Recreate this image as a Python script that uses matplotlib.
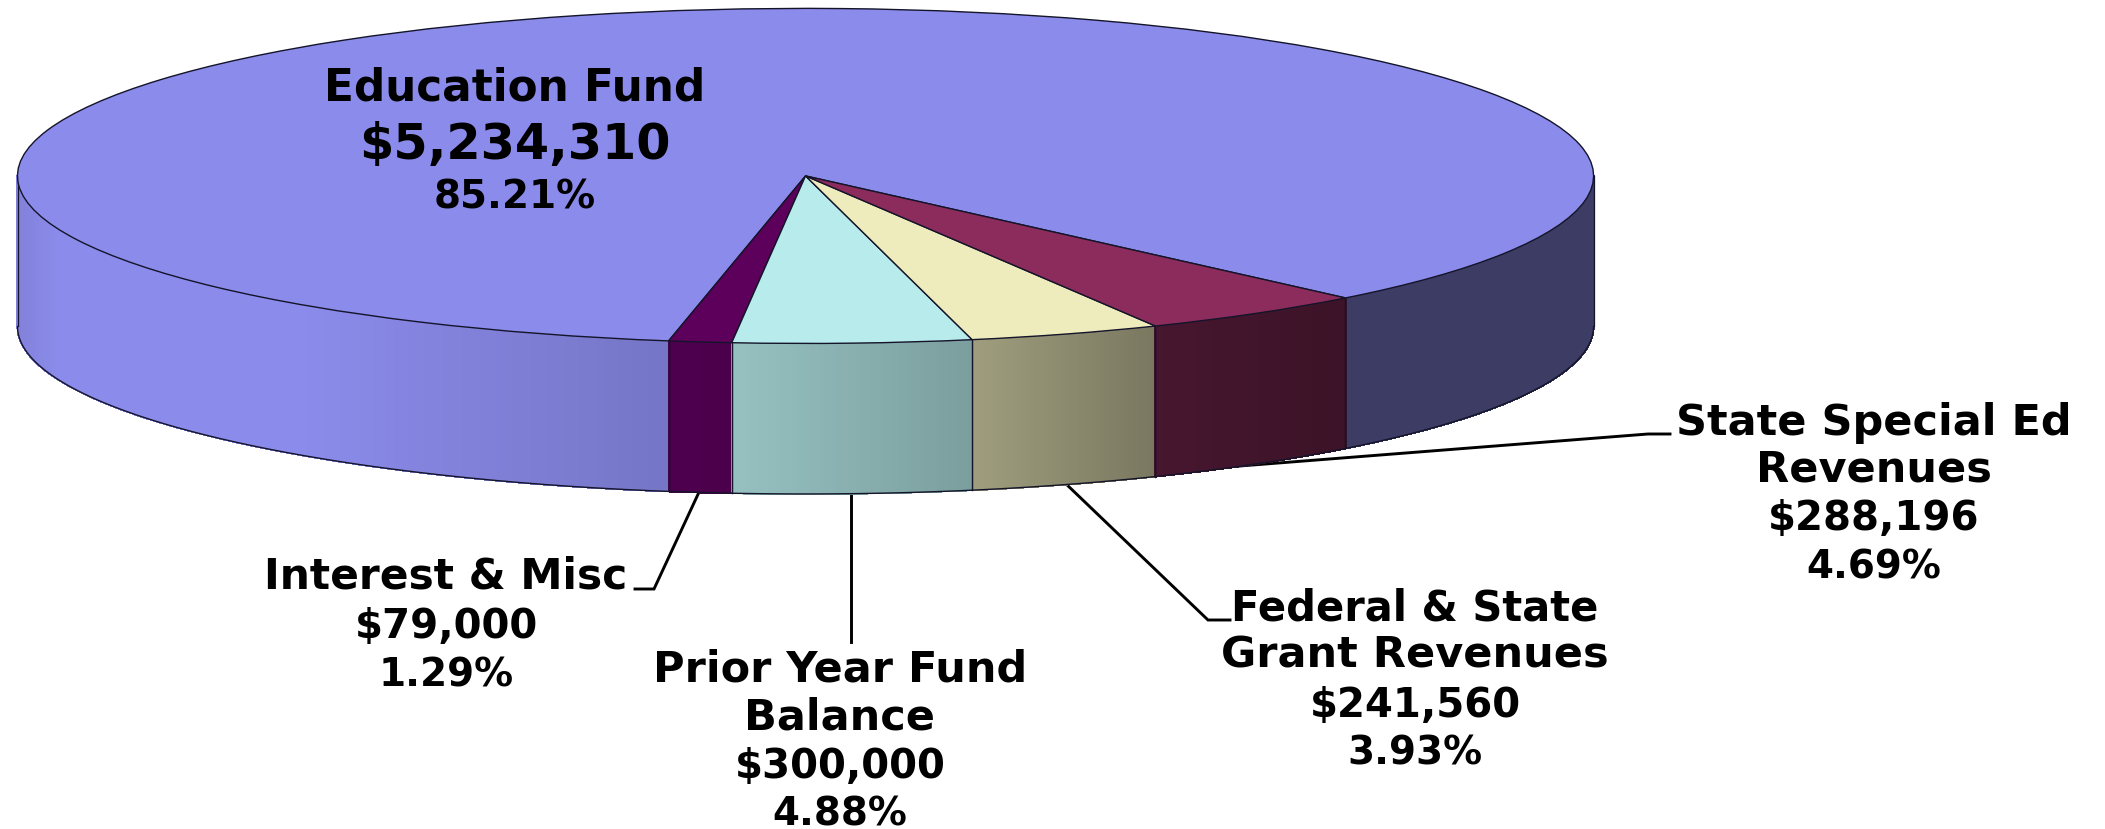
import numpy as np
import matplotlib
matplotlib.use("Agg")
import matplotlib.pyplot as plt
from matplotlib.collections import PolyCollection
from matplotlib.transforms import Affine2D

categories = ["Education Fund", "Interest & Misc", "Prior Year Fund Balance",
              "Federal & State Grant Revenues", "State Special Ed Revenues"]
values = [5234310, 79000, 300000, 241560, 288196]
pct_labels = ["85.21%", "1.29%", "4.88%", "3.93%", "4.69%"]
money_labels = ["$5,234,310", "$79,000", "$300,000", "$241,560", "$288,196"]
top_colors = ["#8B8BEB", "#5C005C", "#B8ECEC", "#EEECBC", "#8B2C5C"]

W, H = 2105, 829
CX, CY, RX, RY, DEPTH = 805.5, 176.0, 788.0, 167.5, 150.5
START = -46.75
EDGE = "#14142a"
FONT = "DejaVu Sans"

fig = plt.figure(figsize=((W + 0.1) / 100, (H + 0.1) / 100), dpi=100, facecolor="white")
ax = fig.add_axes([0, 0, 1, 1])
px = Affine2D().scale(1, -1).translate(0, H)   # reference pixels to display


def shade(xp):
    return np.interp(xp, [17, 60, 300, 655, 730, 970, 1155, 1346, 1593],
                     [.93, 1.0, 1.0, .85, .82, .67, .51, .43, .43])


frac = np.array(values, float) / np.sum(values)
edges = START + 360 * np.concatenate([[0], np.cumsum(frac)])
d = DEPTH / RY

# Leader lines (reference pixels) sit behind the cylinder
leaders = [
    [(700, 490), (654, 589), (635, 589)],
    [(850.5, 490), (850.5, 642)],
    [(1064, 482), (1208, 620), (1230, 620)],
    [(1240, 466), (1648, 434), (1670, 434)],
]
for pts in leaders:
    xs, ys = zip(*pts)
    ax.plot(xs, ys, color="black", lw=2.1, transform=px, zorder=0.5,
            solid_joinstyle="miter", clip_on=False)

# Side wall: only the front half (sin < 0) of each slice is visible
for a0, a1, col in zip(edges[:-1], edges[1:], top_colors):
    for lo, hi in ((a0, a1), (a0 - 360, a1 - 360)):
        lo2, hi2 = max(lo, -180), min(hi, 0)
        if hi2 <= lo2:
            continue
        t = np.radians(np.linspace(lo2, hi2, max(int((hi2 - lo2) * 3), 2) + 1))
        x, y = np.cos(t), np.sin(t)
        polys, cols = [], []
        base = np.array(matplotlib.colors.to_rgb(col))
        for i in range(len(t) - 1):
            polys.append([(x[i], y[i]), (x[i + 1], y[i + 1]),
                          (x[i + 1], y[i + 1] - d), (x[i], y[i] - d)])
            xm = CX + RX * (x[i] + x[i + 1]) / 2
            cols.append(np.clip(base * shade(xm), 0, 1))
        ax.add_collection(PolyCollection(polys, facecolors=cols, edgecolors=cols,
                                         linewidths=0.8, antialiaseds=False, zorder=1))
        ax.plot(x, y - d, color=EDGE, lw=1.0, zorder=2, solid_capstyle="round")
        ax.plot([x[0], x[0]], [y[0], y[0] - d], color=EDGE, lw=0.9, zorder=2)
        ax.plot([x[-1], x[-1]], [y[-1], y[-1] - d], color=EDGE, lw=0.9, zorder=2)

# Top face: a regular pie, squashed to an ellipse by the axes limits
ax.pie(values, colors=top_colors, startangle=START, counterclock=True, radius=1,
       wedgeprops=dict(edgecolor=EDGE, linewidth=1.0, zorder=3))
ax.set_aspect("auto")
ax.set_xlim(-CX / RX, (W - CX) / RX)
ax.set_ylim((CY - H) / RY, CY / RY)
ax.axis("off")


def lines(x, ys, strs, sizes):
    for y, s, fs in zip(ys, strs, sizes):
        ax.text(x, y, s, transform=px, ha="center", va="center_baseline", fontsize=fs,
                fontweight="bold", family=FONT, color="black", zorder=5)


lines(515, [83, 140, 193], [categories[0], money_labels[0], pct_labels[0]], [31.5, 35.5, 28])
lines(446, [572, 622, 671], [categories[1], money_labels[1], pct_labels[1]], [30.5, 29, 28])
lines(840, [665, 713, 762, 810], ["Prior Year Fund", "Balance", money_labels[2], pct_labels[2]], [31, 31, 29, 28])
lines(1415, [604, 651, 701, 749], ["Federal & State", "Grant Revenues", money_labels[3], pct_labels[3]], [30, 31, 29, 28])
lines(1874, [418, 465, 514, 563], ["State Special Ed", "Revenues", money_labels[4], pct_labels[4]], [31, 31, 29, 28])

fig.savefig("out.png", dpi=100, facecolor="white")
